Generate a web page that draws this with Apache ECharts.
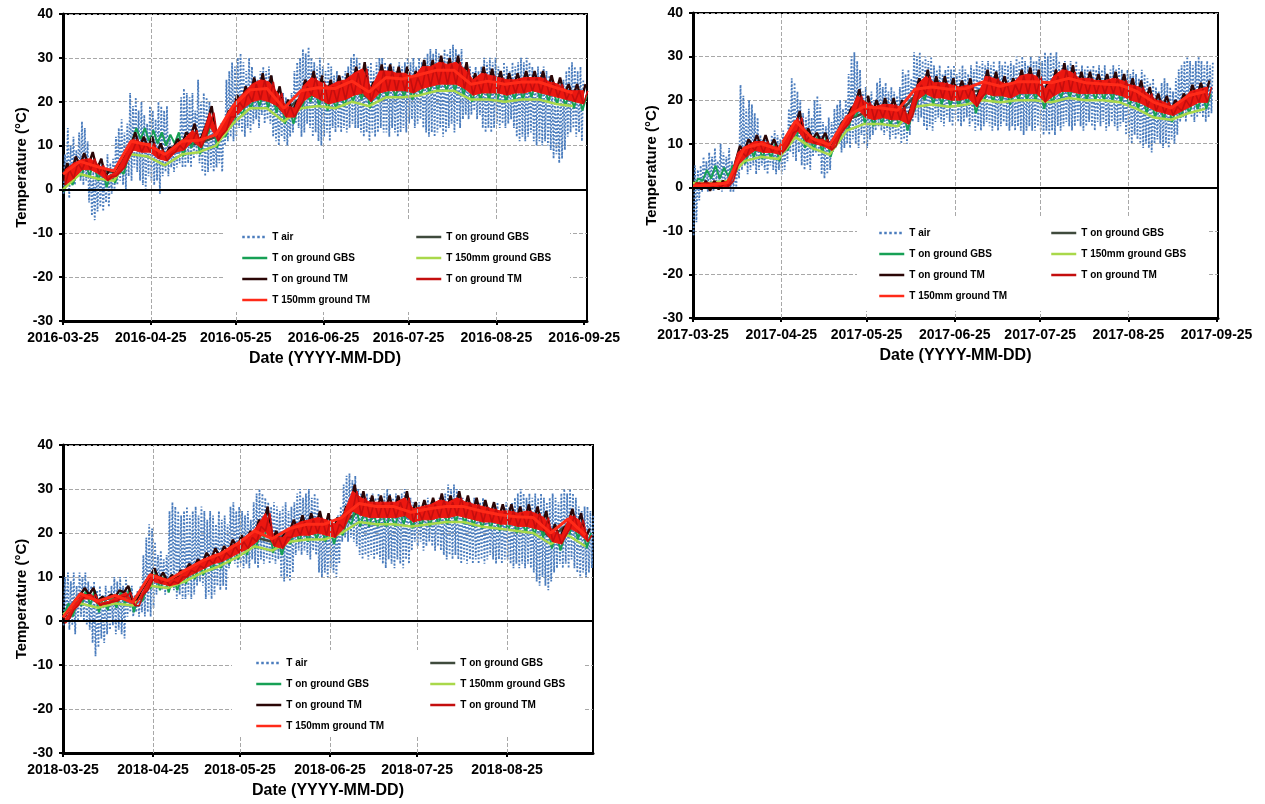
<!DOCTYPE html>
<html><head><meta charset="utf-8">
<script src="https://cdn.jsdelivr.net/npm/echarts/dist/echarts.min.js"></script>
<style>html,body{margin:0;padding:0;background:#fff}#c{width:1265px;height:804px}</style>
</head><body><div id="c"></div>
<script>
// ---------- tick positions (days after 03-25) and labels ----------
const tickDays = [0,31,61,92,122,153,184];
const tickLabels2016 = ['2016-03-25','2016-04-25','2016-05-25','2016-06-25','2016-07-25','2016-08-25','2016-09-25'];
const tickLabels2017 = ['2017-03-25','2017-04-25','2017-05-25','2017-06-25','2017-07-25','2017-08-25','2017-09-25'];
const tickLabels2018 = ['2018-03-25','2018-04-25','2018-05-25','2018-06-25','2018-07-25','2018-08-25'];

// ---------- 2016: air temperature daily min / max ----------
const air2016Lo = [-1,1,-2,2,1,3,2,1,2,-3,-6,-7,-5,-4,-5,-3,-4,-1,0,1,2,1,0,3,2,5,4,2,1,0,3,2,1,2,-1,3,4,3,5,4,5,6,5,5,6,5,7,8,6,4,3,4,5,4,5,6,4,10,11,12,11,12,14,13,12,14,13,15,16,14,17,15,16,15,12,11,10,12,11,10,12,13,15,14,12,13,15,14,12,13,11,10,12,13,11,14,13,14,13,14,13,14,15,14,14,13,12,13,11,13,12,13,14,13,13,12,14,13,12,13,14,13,15,16,14,15,16,14,13,12,13,12,13,14,12,13,14,15,13,15,14,16,17,16,17,18,16,17,14,13,14,13,14,15,14,15,14,15,16,14,12,11,12,11,12,13,11,10,11,10,11,10,9,7,8,6,7,9,12,13,14,12,13,11];
const air2016Hi = [8,14,10,12,9,13,15.5,14,11,6,4,5,6,7,5,8,6,7,12,14,16,13,15,22,19,21,18,20,17,15,19,18,16,20,19,18,19,12,10,11,12,21,23,22,21,22,18,25,20,22,21,20,15,14,13,15,14,25,27,29,28,30,31,29,27,30,28,26,25,27,28,27,28,26,22,21,20,22,21,20,22,27,29,30,32,31,32.5,30,29,28,30,28,27,29,28,26,27,25,26,27,28,30,31,30,29,27,29,28,29,27,29,30,30,29,28,29,28,27,29,28,29,30,29,30,28,30,29,30,31,32,31,32,31,30,32,31,32,33,32,31,32,28,27,28,27,28,27,28,30,29,30,29,30,28,27,29,28,27,29,28,29,30,29,30,29,28,27,28,27,28,27,26,25,22,20,24,25,27,28,29,28,27,28,25];
// ---------- 2016: ground series, every 3 days (min / max) ----------
const tmOn2016Hi = [6,7.5,8.3,8.5,7,4.5,5.5,9,13,12,12,10.5,9.5,11.5,13,15,13,19,14,18,21.5,23.5,25.5,26.5,26,23.5,20.5,20,25,27,26,25,26,26.5,28,29,24.5,28.5,28.5,28,28,27,29.5,29.5,30.5,30,30.5,29,26.5,28,27.5,27,26.5,26.5,27,27,27,26,25.5,24,24,24];
const tmOn2016Lo = [2,3.5,5.5,5.5,4.5,3,4,6,10,9.5,9.5,8,7.5,9.5,10,12,10.5,15.5,12,14.5,17.5,19.5,21,21.5,21,20,17.5,17.5,21,22.5,21.5,20.5,21,21.5,22.5,23,21,23,23.5,23.5,23.5,23,24,24.5,25,25,25,24,22.5,23,23,23,22.5,23,23,23.5,23,22.5,22,21.5,21,20.5];
const tmRed2016Hi = [4.5,6,6.8,7,5.5,3,4,7.5,11.5,10.5,10.5,9,8,10,11.5,13.5,11.5,17.5,12.5,16.5,20,22,24,25,24.5,22,19,18.5,23.5,25.5,24.5,23.5,24.5,25,26.5,27.5,23,27,27,26.5,26.5,25.5,28,28,29,28.5,29,27.5,25,26.5,26,25.5,25,25,25.5,25.5,25.5,24.5,24,22.5,22.5,22.5];
const tmRed2016Lo = [1,2.5,4.5,4.5,3.5,2,3,5,9,8.5,8.5,7,6.5,8.5,9,11,9.5,14.5,11,13.5,16.5,18.5,20,20.5,20,19,16.5,16.5,20,21.5,20.5,19.5,20,20.5,21.5,22,20,22,22.5,22.5,22.5,22,23,23.5,24,24,24,23,21.5,22,22,22,21.5,22,22,22.5,22,21.5,21,20.5,20,19.5];
const gbsOn2016Hi = [3,4,6,6.5,5,3.5,4.5,7,14,14,13.5,13,12.5,13,11,13,11.5,16.5,13,15.5,18.5,20.5,22,22.5,22,21,18.5,18.5,22,23.5,22.5,21.5,22,22.5,23.5,24,22,24,24.5,24.5,24.5,24,25,25.5,26,26,26,25,23.5,24,24,24,23.5,24,24,24.5,24,23.5,23,22.5,22,21.5];
const gbsOn2016Lo = [-0.5,1,3,3,2,0.5,1.5,3.5,11,11.5,11,10.5,10,10.5,7.5,9.5,8,13,9.5,12,15,17,18.5,19,18.5,17.5,15,15,18.5,20,19,18,18.5,19,20,20.5,18.5,20.5,21,21,21,20.5,21.5,22,22.5,22.5,22.5,21.5,20,20.5,20.5,20.5,20,20.5,20.5,21,20.5,20,19.5,19,18.5,18];
// every 6 days
const tm150_2016 = [3.5,6.4,5.2,4.2,11,10.2,8,11,11.2,12.5,19,22.7,23,18.5,22.5,23.2,23,24.7,22.2,25.5,25.2,26.2,27.2,27.2,24,24.7,24,24.5,24.5,23.2,22];
const gbs150_2016 = [0,3.5,2.5,2,8,7.5,5.5,8,8.5,10,15,18.5,18.5,15.5,18.5,19,18.5,20,19,21,21,21.5,22.5,22.5,20.5,20.5,20,20.5,20.5,19.5,19];
const gbsDark2016 = [2,5.5,4.5,4,10,9.5,7.5,10,10.5,12,17.5,21,21,17.5,21,21.5,21,22.5,21,23.5,23.5,24,25,25,22.5,23,22.5,23,23,22,21];

// ---------- 2017 ----------
const air2017Lo = [-11,-8,-3,-1,0,-1,0,-1,1,0,-1,0,1,-1,-1,0,2,4,5,3,4,5,3,4,5,4,3,5,4,3,4,3,4,6,8,7,6,8,5,4,5,4,7,8,7,3,2,3,4,8,9,10,8,9,10,9,11,10,9,12,10,9,11,12,13,14,13,12,13,11,12,11,12,10,11,10,12,15,16,15,16,14,13,14,13,15,16,15,14,16,15,14,16,15,14,15,16,14,15,13,14,13,14,15,14,13,14,13,14,15,14,13,14,13,14,13,12,13,14,13,13,14,13,12,13,12,13,12,14,13,14,15,14,13,14,15,14,13,14,15,14,13,15,14,15,13,14,15,14,13,14,15,12,11,10,12,11,10,9,10,9,8,10,11,10,9,10,9,11,10,12,15,16,15,17,16,15,16,17,16,15,16,17];
const air2017Hi = [5,4,5,7,6,8,7,9,6,10,8,7,9,6,5,6,23.5,21,18,20,19,17,16,12,11,12,10,12,13,12,11,13,12,18,25,24,22,20,17,16,18,16,20,21,19,15,14,16,15,18,19,20,18,20,26,30,31,29,27,22,23,21,22,20,24,25,23,24,22,23,22,21,23,27,26,27,25,31,30,31,29,30,29,30,28,27,28,26,27,28,27,28,26,27,28,27,26,28,27,29,28,29,28,29,28,29,27,29,28,29,28,29,28,30,29,30,29,28,30,29,29,30,29,31,30,31,30,31,29,28,29,28,29,28,29,27,28,27,28,27,28,27,28,27,28,26,27,28,27,28,27,26,27,26,27,26,25,27,26,25,24,25,23,22,24,25,24,23,22,25,27,28,29,30,29,28,29,30,29,28,29,28,29];
const tmOn2017Hi = [1,1.5,1.5,1.5,2,9.5,11,12,12,11,10,14,17.5,13.5,12.5,12.5,11,15,18,22.5,21,20,20.5,20.5,20,18,25,27,25.5,25.5,25,24.5,25,22,27,26.5,25.5,25,27,27.5,27,24,27,28.5,28,26.5,26.5,26,26,26.5,26,25,24.5,23,21.5,21,20,21.5,23.5,24,24.5];
const tmOn2017Lo = [-0.5,-0.5,-0.8,-0.5,0,6,8,9.5,9,9,8.5,11,14,11.5,11,10.5,9.5,13,15.5,19,17,16.5,17,16.5,16.5,15.5,21,22.5,21.5,21.5,21,21,21.5,19.5,22.5,22,22,21.5,22.5,22.5,22.5,20.5,22,23,23,22.5,22.5,22.5,22.5,22.5,22,21,20.5,19.5,18.5,18,17.5,18.5,19.5,20.5,20.5];
const tmRed2017Hi = [1,1,1,1,1.5,8,9.5,10.5,10.5,9.5,8.5,12.5,16,12,11,11,9.5,13.5,16.5,21,19.5,18.5,19,19,18.5,16.5,23.5,25.5,24,24,23.5,23,23.5,20.5,25.5,25,24,23.5,25.5,26,25.5,22.5,25.5,27,26.5,25,25,24.5,24.5,25,24.5,23.5,23,21.5,20,19.5,18.5,20,22,22.5,23];
const tmRed2017Lo = [0,0,0,0,0.3,5,7,8.5,8,8,7.5,10,13,10.5,10,9.5,8.5,12,14.5,18,16,15.5,16,15.5,15.5,14.5,20,21.5,20.5,20.5,20,20,20.5,18.5,21.5,21,21,20.5,21.5,21.5,21.5,19.5,21,22,22,21.5,21.5,21.5,21.5,21.5,21,20,19.5,18.5,17.5,17,16.5,17.5,18.5,19.5,19.5];
const gbsOn2017Hi = [2,4,5,4.5,5,7,9,10.5,10,10,9.5,12,15,12.5,12,11.5,10.5,14,16.5,20,18,17.5,18,17.5,17.5,16.5,22,23.5,22.5,22.5,22,22,22.5,20.5,23.5,23,23,22.5,23.5,23.5,23.5,21.5,23,24,24,23.5,23.5,23.5,23.5,23.5,23,22,21.5,20.5,19.5,19,18.5,19.5,20.5,21.5,21.5];
const gbsOn2017Lo = [0.5,1.5,2,2,2.5,4,5.5,7,6.5,6.5,6,8.5,11.5,9,8.5,8,7,10.5,13,16.5,14.5,14,14.5,14,14,13,18.5,20,19,19,18.5,18.5,19,17,20,19.5,19.5,19,20,20,20,18,19.5,20.5,20.5,20,20,20,20,20,19.5,18.5,18,17,16,15.5,15,16,17,18,18];
const tm150_2017 = [0.3,0.5,1,9,10,8.7,15.2,11.2,9.7,16.2,18.5,18.2,17.7,22.5,23,22.5,22.7,24.2,23.2,24.2,24.2,24,25,24,23.7,23.5,22,19.5,18.2,21,22];
const gbs150_2017 = [1,1,1.5,6,7,6.5,11.5,9,7.5,13,14.5,14.5,14,18.5,19,18.5,19,20,19.5,20,20,19.5,20.5,20,20,19.5,18,16,15.5,17,18];
const gbsDark2017 = [0.5,0.5,1,8,9,8.5,14,11,9.5,15.5,17,17,16.5,21,21.5,21,21.5,22.5,22,22.5,22.5,22,23,22.5,22.5,22,20.5,18.5,17.5,19.5,20.5];

// ---------- 2018 ----------
const air2018Lo = [-1,0,-2,-1,-3,0,1,0,-1,-2,-5,-8,-6,-4,-5,-3,-2,-1,-3,-2,-3,-4,1,2,1,2,1,2,1,2,1,3,6,8,7,6,7,8,7,5,6,5,5,6,5,6,8,9,8,5,6,5,6,8,7,8,7,12,14,13,12,13,12,13,12,14,13,12,14,13,14,13,14,13,14,10,9,10,9,11,15,16,15,16,15,14,16,15,11,10,11,10,12,11,10,13,18,19,18,19,18,17,15,14,15,14,15,14,15,14,13,12,14,13,12,14,13,12,14,13,16,18,17,18,16,17,18,17,16,17,16,15,14,15,14,15,14,13,14,13,14,13,14,13,14,13,14,15,14,13,14,13,14,14,13,12,13,12,13,12,13,12,11,9,8,10,8,7,9,11,12,13,12,13,12,14,12,11,10,11,10,11,12];
const air2018Hi = [10,11,9,11,8,11,10,11,9,8,9,7,8,6,8,7,8,10,9,10,8,10,7,8,6,7,8,15,19,22,21,18,15,16,14,15,25,27,26,25,24,25,26,24,25,26,24,26,25,23,25,24,22,25,23,24,22,26,27,25,26,25,24,25,23,27,29,30,29,28,27,26,27,26,25,26,27,25,26,27,29,30,28,29,30,28,29,28,24,23,22,24,23,22,24,26,31,33,33.5,32,33,30,29,28,29,28,29,28,29,28,29,30,29,28,29,28,29,30,29,28,27,26,27,26,27,28,27,26,27,28,27,29,31,30,31,30,29,28,27,28,27,28,26,27,28,27,26,25,26,27,25,26,27,26,27,28,29,30,29,28,29,28,29,28,29,28,27,28,29,28,27,29,30,29,30,29,28,26,25,26,26,25,24];
const tmOn2018Hi = [2,5,7.5,7.5,5.5,6,7,8,5,8.5,12,11,10.5,11.5,13,14,15.5,16.5,17,18.5,19.5,20.5,23,26,20.5,20.5,23,24,24.5,25,24.5,23.5,26,31,29.5,28.5,28.5,28.5,28.5,29.5,27,27.5,28,29,28.5,29.5,28.5,28,27.5,27,26.5,26.5,26,26.5,26,25,22,21,25.5,24.5,21];
const tmOn2018Lo = [0.5,3.5,6,6,4.5,5,5.5,6.5,4.5,7,10,9.5,9,9.5,11,12,13,14,14.5,15.5,16.5,17.5,19,21.5,18,17.5,20,20.5,20.5,21,20.5,20,22,26,25,24.5,24.5,24.5,24.5,25,23.5,24,24,24.5,24.5,25,24.5,24,23.5,23.5,23,23,22.5,22.5,22,21.5,19,18.5,22,21,19];
const tmRed2018Hi = [0.5,3.5,6,6,4,4.5,5.5,6.5,3.5,7,10.5,9.5,9,10,11.5,12.5,14,15,15.5,17,18,19,21.5,24.5,19,19,21.5,22.5,23,23.5,23,22,24.5,29.5,28,27,27,27,27,28,25.5,26,26.5,27.5,27,28,27,26.5,26,25.5,25,25,24.5,25,24.5,23.5,20.5,19.5,24,23,19.5];
const tmRed2018Lo = [-0.5,2.5,5,5,3.5,4,4.5,5.5,3.5,6,9,8.5,8,8.5,10,11,12,13,13.5,14.5,15.5,16.5,18,20.5,17,16.5,19,19.5,19.5,20,19.5,19,21,25,24,23.5,23.5,23.5,23.5,24,22.5,23,23,23.5,23.5,24,23.5,23,22.5,22.5,22,22,21.5,21.5,21,20.5,18,17.5,21,20,18];
const gbsOn2018Hi = [4,4.5,7,7,5.5,6,6.5,7.5,5.5,8,11,10.5,10,10.5,12,13,14,15,15.5,16.5,17.5,18.5,20,22.5,19,18.5,21,21.5,21.5,22,21.5,21,23,26,25,24.5,24.5,24.5,25,25.5,24.5,25,25,25.5,25.5,26,25.5,25,24.5,24.5,24,24,23.5,23.5,23,22.5,20,19.5,23,22,20];
const gbsOn2018Lo = [1.5,1,3.5,3.5,2,2.5,3,4,2,4.5,7.5,7,6.5,7,8.5,9.5,10.5,11.5,12,13,14,15,16.5,19,15.5,15,17.5,18,18,18.5,18,17.5,19.5,22,21.5,21.5,21.5,21.5,21.5,22,21,21.5,21.5,22,22,22.5,22,21.5,21,21,20.5,20.5,20,20,19.5,19,16.5,16,19.5,18.5,16.5];
const tm150_2018 = [0.8,6.2,4.5,5.8,4.2,10.5,9.2,11.5,13.7,15.2,17.5,20.5,18.7,21,22,22,23.5,26.7,26,26,24.7,25.5,26,26,25,24.2,23.7,23.5,20,23.2,19.5];
const gbs150_2018 = [1.5,4,3,4,3.5,8,7.5,9,11,12.5,14.5,17,16,18,18.5,18.5,20,22.5,22,22,21.5,22,22.5,22.5,21.5,21,20.5,20,17.5,19.5,17];
const gbsDark2018 = [1,6,4.5,5.5,4.5,10,9,11,13,14.5,16.5,19,18,20,20.5,20.5,22,25,24.5,24.5,23.5,24,24.5,24.5,23.5,23,22.5,22,19,22,19];

// ---------- names / colours ----------
const NAME_AIR = 'T air';
const NAME_GBS_DARK = 'T on ground GBS';
const NAME_GBS_GREEN = 'T on ground GBS ';
const NAME_GBS150 = 'T 150mm ground GBS';
const NAME_TM_DARK = 'T on ground TM';
const NAME_TM_RED = 'T on ground TM ';
const NAME_TM150 = 'T 150mm ground TM';
const C = {air:'#4a7cbd', gbsDark:'#3f4a3c', gbsGreen:'#17a055', gbs150:'#a9d84a', tmDark:'#2a0606', tmRed:'#c40e0e', tmBand:'#ec1710', tm150:'#ff2a18'};

// ---------- helpers (pairing stored min/max values in time order) ----------
function zig(lo, hi, step, off){ const o=[]; for(let i=0;i<lo.length;i++){ o.push([i*step+off, lo[i]]); o.push([i*step+off+step/2, hi[i]]); } return o; }
function seq(v, step, off){ return v.map((y,i)=>[i*step+(off||0), y]); }

const FONT = 'Liberation Sans, Arial, Helvetica, sans-serif';
const panels = [
  {grid:{left:63,top:14,width:524,height:307}, max:185, labels:tickLabels2016, box:[223,220,347,92], legA:[241,231], legB:[415,231],
   air:[air2016Lo,air2016Hi], tmOn:[tmOn2016Lo,tmOn2016Hi], tmRed:[tmRed2016Lo,tmRed2016Hi], gbsOn:[gbsOn2016Lo,gbsOn2016Hi], tm150:tm150_2016, gbs150:gbs150_2016, gbsDark:gbsDark2016},
  {grid:{left:693,top:13,width:525,height:305}, max:184.5, labels:tickLabels2017, box:[857,218,350,93], legA:[878,227], legB:[1050,227],
   air:[air2017Lo,air2017Hi], tmOn:[tmOn2017Lo,tmOn2017Hi], tmRed:[tmRed2017Lo,tmRed2017Hi], gbsOn:[gbsOn2017Lo,gbsOn2017Hi], tm150:tm150_2017, gbs150:gbs150_2017, gbsDark:gbsDark2017},
  {grid:{left:63,top:445,width:530,height:308}, max:182.6, labels:tickLabels2018, box:[232,650,352,87], legA:[255,657], legB:[429,657],
   air:[air2018Lo,air2018Hi], tmOn:[tmOn2018Lo,tmOn2018Hi], tmRed:[tmRed2018Lo,tmRed2018Hi], gbsOn:[gbsOn2018Lo,gbsOn2018Hi], tm150:tm150_2018, gbs150:gbs150_2018, gbsDark:gbsDark2018}
];

const grids=[], xAxes=[], yAxes=[], series=[], legends=[], graphics=[];
const bold = {fontFamily:FONT, fontWeight:'bold', color:'#000'};
panels.forEach((p,i)=>{
  grids.push(Object.assign({show:true, borderColor:'#000', borderWidth:2, backgroundColor:'transparent'}, p.grid));
  const ticks = tickDays.filter(d=>d<=p.max);
  xAxes.push({type:'value', gridIndex:i, min:0, max:p.max,
    axisLine:{onZero:false, lineStyle:{color:'#000', width:3}},
    axisTick:{customValues:ticks, length:4, lineStyle:{color:'#000', width:2}},
    axisLabel:Object.assign({customValues:ticks, formatter:v=>p.labels[ticks.indexOf(v)] || '', fontSize:14, margin:10}, bold),
    splitLine:{show:false},
    name:'Date (YYYY-MM-DD)', nameLocation:'middle', nameGap:30, nameTextStyle:Object.assign({fontSize:16}, bold)});
  yAxes.push({type:'value', gridIndex:i, min:-30, max:40, interval:10,
    axisLine:{show:true, onZero:false, lineStyle:{color:'#000', width:3}},
    axisTick:{show:true, length:4, lineStyle:{color:'#000', width:2}},
    axisLabel:Object.assign({fontSize:14, margin:10}, bold),
    splitLine:{show:true, lineStyle:{color:'#a8a8a8', type:'dashed', width:1}},
    name:'Temperature (°C)', nameLocation:'middle', nameRotate:90, nameGap:34, nameTextStyle:Object.assign({fontSize:15}, bold)});
  const vlines = tickDays.filter(d=>d>0 && d<p.max-3).map(d=>({xAxis:d, lineStyle:{color:'#a8a8a8', type:'dashed', width:1}}));
  vlines.push({yAxis:0, lineStyle:{color:'#000', type:'solid', width:2}});
  const base = {type:'line', xAxisIndex:i, yAxisIndex:i, symbol:'none', showSymbol:false, animation:false, silent:true, z:2};
  series.push(Object.assign({}, base, {name:NAME_AIR, data:zig(p.air[0], p.air[1], 1, 0.2),
    lineStyle:{color:C.air, width:1.8, type:'dotted'}, itemStyle:{color:C.air},
    markLine:{silent:true, symbol:'none', label:{show:false}, animation:false, data:vlines}}));
  series.push(Object.assign({}, base, {name:NAME_GBS_DARK, data:seq(p.gbsDark, 6), lineStyle:{color:C.gbsDark, width:2.5}, itemStyle:{color:C.gbsDark}}));
  series.push(Object.assign({}, base, {name:NAME_GBS_GREEN, data:zig(p.gbsOn[0], p.gbsOn[1], 3, 0.4), lineStyle:{color:C.gbsGreen, width:2}, itemStyle:{color:C.gbsGreen}}));
  series.push(Object.assign({}, base, {name:NAME_GBS150, data:seq(p.gbs150, 6), lineStyle:{color:C.gbs150, width:2.5}, itemStyle:{color:C.gbs150}}));
  series.push(Object.assign({}, base, {name:NAME_TM_DARK, data:zig(p.tmOn[0], p.tmOn[1], 3, 0), lineStyle:{color:C.tmDark, width:2.4}, itemStyle:{color:C.tmDark}}));
  series.push(Object.assign({}, base, {name:NAME_TM_RED, z:4, data:zig(p.tmRed[0], p.tmRed[1], 3, 0.75), lineStyle:{color:C.tmRed, width:1.6}, itemStyle:{color:C.tmRed}}));
  series.push(Object.assign({}, base, {name:NAME_TM150, z:4, data:seq(p.tm150, 6), lineStyle:{color:C.tm150, width:3}, itemStyle:{color:C.tm150}}));
  const legBase = {orient:'vertical', padding:0, itemWidth:25, itemHeight:10, itemGap:9, z:10, selectedMode:false,
    itemStyle:{opacity:0}, lineStyle:{width:2.5},
    textStyle:{fontFamily:FONT, fontWeight:'bold', fontSize:10, color:'#000', lineHeight:12}};
  legends.push(Object.assign({}, legBase, {left:p.legA[0], top:p.legA[1], data:[NAME_AIR, NAME_GBS_GREEN, NAME_TM_DARK, NAME_TM150]}));
  legends.push(Object.assign({}, legBase, {left:p.legB[0], top:p.legB[1], data:[NAME_GBS_DARK, NAME_GBS150, NAME_TM_RED]}));
  graphics.push({type:'rect', z:6, silent:true, shape:{x:p.box[0], y:p.box[1], width:p.box[2], height:p.box[3]}, style:{fill:'#fff'}});
});

const chart = echarts.init(document.getElementById('c'), null, {renderer:'canvas'});
chart.setOption({backgroundColor:'#fff', animation:false, textStyle:{fontFamily:FONT},
  grid:grids, xAxis:xAxes, yAxis:yAxes, series:series, legend:legends, graphic:graphics});

// min..max envelope of "T on ground TM" filled as a band, positioned through the chart's own axes
const bands = panels.map((p,i)=>{
  const lo = p.tmRed[0], hi = p.tmRed[1], step = 3, off = 0.75, pts = [];
  for (let k=0;k<lo.length;k++) pts.push(chart.convertToPixel({gridIndex:i}, [k*step+off, lo[k]]));
  for (let k=hi.length-1;k>=0;k--) pts.push(chart.convertToPixel({gridIndex:i}, [k*step+off, hi[k]]));
  return {type:'polygon', z:3, silent:true, shape:{points:pts}, style:{fill:C.tmBand, stroke:C.tmBand, lineWidth:1}};
});
chart.setOption({graphic:graphics.concat(bands)});
</script></body></html>
